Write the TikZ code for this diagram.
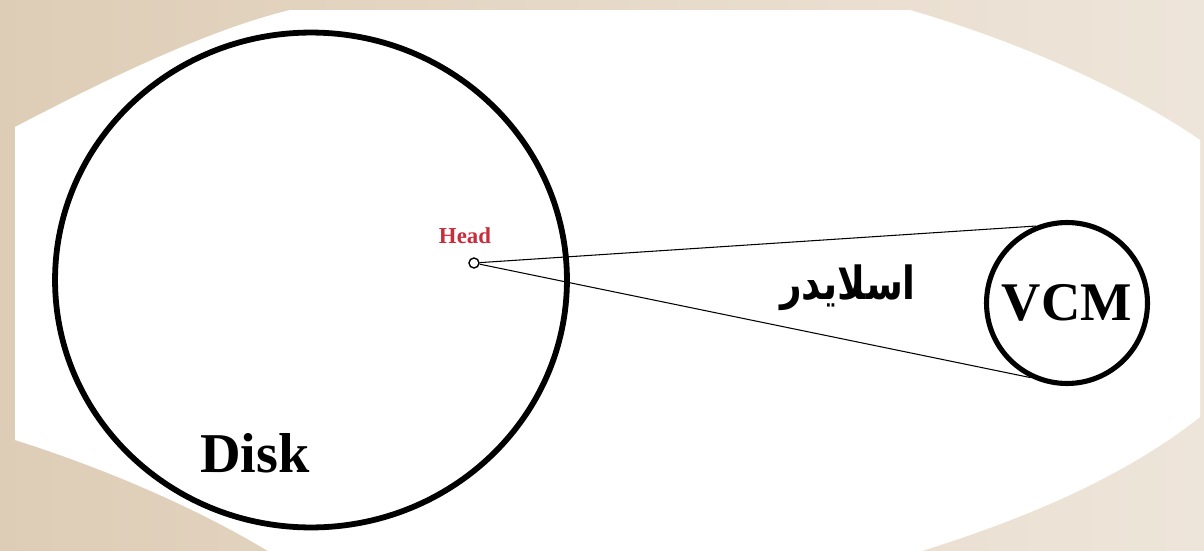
\documentclass[tikz,border=0pt]{standalone}
\usepackage{fontspec}
\setmainfont{Liberation Serif}
\newfontfamily\arabicfont[Script=Arabic]{DejaVu Sans}
\TeXXeTstate=1
\usepackage{tikz}
\usetikzlibrary{shapes.geometric}

\definecolor{bgleft}{RGB}{222,205,182}
\definecolor{bgright}{RGB}{238,229,218}
\definecolor{headred}{RGB}{200,45,60}

\tikzset{
    thickring/.style={draw, line width=3.3pt, inner sep=0pt},
    slider/.style={draw, line width=0.6pt},
}

\begin{document}
\begin{tikzpicture}[x=0.02cm, y=-0.02cm]
                \useasboundingbox (0,0) rectangle (1204,551);
                % background
                \shade[left color=bgleft, right color=bgright] (0,0) rectangle (1204,551);
                \fill[white] (15,127) .. controls (90,88) and (200,32) .. (290,10) -- (910,10)
                    .. controls (1030,45) and (1135,95) .. (1200,140) -- (1200,417)
                    .. controls (1120,480) and (1020,520) .. (922,551) -- (268,551)
                    .. controls (200,510) and (110,470) .. (15,440) -- cycle;

                % disk
                \node[thickring, ellipse, minimum width=10.24cm, minimum height=9.9cm] (disk) at (311,280) {};
                \node[font=\bfseries\fontsize{32}{32}\selectfont] (disklabel) at (255,453) {Disk};

                % head
                \node[draw, circle, line width=0.8pt, minimum size=0.2cm, inner sep=0pt] (head) at (474,263) {};
                \node[text=headred, font=\bfseries\fontsize{13}{13}\selectfont] (headlabel) at (465,236) {Head};

                % VCM
                \node[thickring, line width=2.9pt, circle, minimum size=3.22cm, font=\bfseries\fontsize{31}{31}\selectfont] (vcm) at (1067,303) {VCM};

                % slider arm
                \draw[slider] (head) -- (vcm.112);
                \draw[slider] (head) -- (vcm.-116);
                \node[font=\arabicfont\bfseries\fontsize{26}{26}\selectfont] (sliderlabel) at (848,288) {\scalebox{0.82}[1]{\beginR اسلایدر\endR}};
\end{tikzpicture}
\end{document}
